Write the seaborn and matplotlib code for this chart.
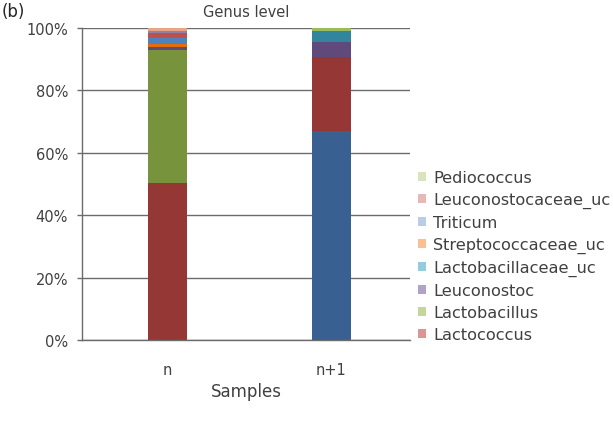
import numpy as np
import matplotlib
matplotlib.use("Agg")
import matplotlib.pyplot as plt
from matplotlib.patches import Patch
import seaborn as sns

sns.set_style("white")
plt.rcParams["font.family"] = ["DejaVu Sans"]

# Samples on the x axis
samples = ["n", "n+1"]

# Relative abundance (%) per genus, listed bottom -> top of the stack
unlisted_blue = [0.0, 67.1]
lactococcus = [50.3, 23.5]
lactobacillus = [42.7, 0.0]
leuconostoc = [0.8, 5.0]
lactobacillaceae_uc = [0.0, 3.5]
streptococcaceae_uc = [1.1, 0.0]
triticum = [2.0, 0.0]
leuconostocaceae_uc = [1.4, 0.0]
pediococcus = [0.0, 0.9]
unlisted_purple = [0.9, 0.0]
unlisted_peach = [0.8, 0.0]

# Legend entries (top -> bottom, as shown)
legend_names = ["Pediococcus", "Leuconostocaceae_uc", "Triticum", "Streptococcaceae_uc",
                "Lactobacillaceae_uc", "Leuconostoc", "Lactobacillus", "Lactococcus"]
legend_colors = ["#D7E4BD", "#E6B9B8", "#B9CDE5", "#FAC090",
                 "#93CDDD", "#B3A2C7", "#C3D69B", "#D99694"]

layers = [unlisted_blue, lactococcus, lactobacillus, leuconostoc, lactobacillaceae_uc,
          streptococcaceae_uc, triticum, leuconostocaceae_uc, pediococcus,
          unlisted_purple, unlisted_peach]
bar_colors = ["#386192", "#953735", "#77933C", "#604A7B", "#31859C",
              "#E46C0A", "#4F81BD", "#C0504D", "#9BBB59", "#8D82A8", "#E8A487"]

fig = plt.figure(figsize=(6.13, 4.31), dpi=100)
ax = fig.add_axes([0.1338, 0.2088, 0.5352, 0.7239])

# stacked bars: draw cumulative totals from the top layer down
stack = np.cumsum(np.array(layers), axis=0)
for i in reversed(range(len(layers))):
    sns.barplot(x=samples, y=stack[i], color=bar_colors[i], width=0.24,
                saturation=1, errorbar=None, linewidth=0, ax=ax)

ax.set_xlim(-0.52, 1.48)
ax.set_ylim(0, 100)
ax.set_yticks(range(0, 101, 20))
ax.set_yticklabels([f"{v}%" for v in range(0, 101, 20)])

grid_col = "#6b6b6b"
ax.set_axisbelow(True)
ax.yaxis.grid(True, color=grid_col, linewidth=1.0)
ax.xaxis.grid(False)
for side in ["top", "right"]:
    ax.spines[side].set_visible(False)
for side in ["left", "bottom"]:
    ax.spines[side].set_color(grid_col)
    ax.spines[side].set_linewidth(1.0)

ax.tick_params(axis="y", left=True, length=3.6, width=1.0, color=grid_col,
               pad=6.5, labelsize=10.5, labelcolor="#404040")
ax.tick_params(axis="x", bottom=False, pad=12, labelsize=10.5, labelcolor="#404040")

ax.set_xlabel("Samples", fontsize=12, color="#404040", labelpad=4)
ax.set_ylabel("")
ax.set_title("Genus level", fontsize=10.5, color="#404040", pad=9)
fig.text(0.002, 0.973, "(b)", fontsize=12, color="#262626", va="center", ha="left")

handles = [Patch(facecolor=c, edgecolor="none") for c in legend_colors]
fig.legend(handles, legend_names, loc="upper left", bbox_to_anchor=(0.682, 0.6035),
           frameon=False, borderpad=0, borderaxespad=0, fontsize=11.6,
           handlelength=0.5, handleheight=0.5, handletextpad=0.42,
           labelspacing=0.43, labelcolor="#404040")

fig.savefig("out.png", dpi=100)
